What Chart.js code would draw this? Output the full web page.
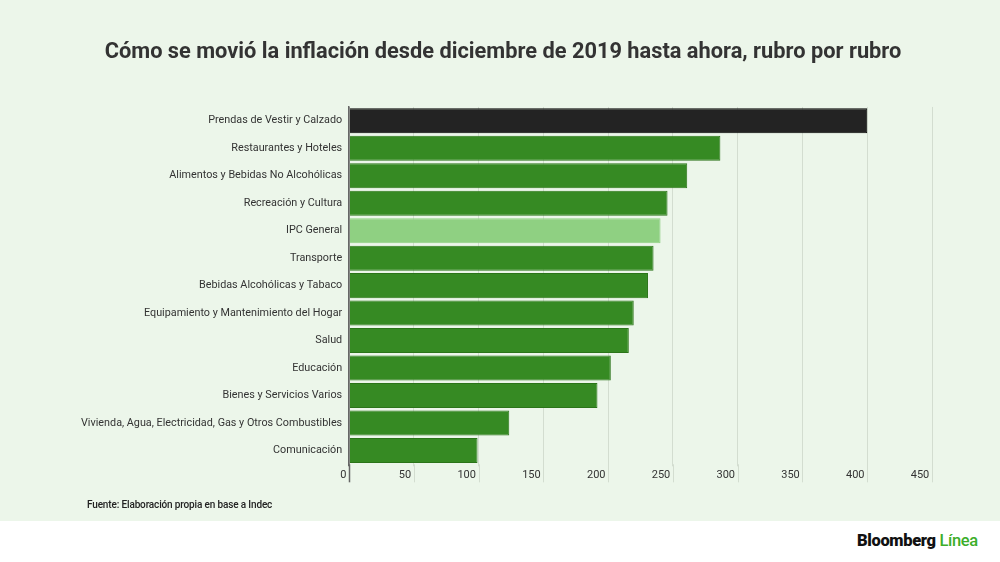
<!DOCTYPE html>
<html>
<head>
<meta charset="utf-8">
<script src="https://cdn.jsdelivr.net/npm/chart.js@4.4.0/dist/chart.umd.min.js"></script>
<style>
  html, body { margin: 0; padding: 0; background: #ffffff; }
  body { width: 1000px; height: 562px; position: relative; overflow: hidden; font-family: Roboto, sans-serif; }
  #panel { position: absolute; left: 0; top: 0; width: 1000px; height: 521px; background: #ecf6ea; }
  #fuente { position: absolute; left: 87px; top: 499px; font-size: 10px; font-weight: 500; color: #222; letter-spacing: -0.15px; }
  #logo { position: absolute; left: 857px; top: 531px; font-size: 16.5px; font-weight: 900; color: #111; letter-spacing: -0.35px; }
  #logo span { color: #3cae2a; font-weight: 500; }
</style>
</head>
<body>
<div id="panel"><canvas id="myChart" width="1000" height="521"></canvas></div>
<div id="fuente">Fuente: Elaboración propia en base a Indec</div>
<div id="logo">Bloomberg <span>Línea</span></div>
<script>
// rubros, de mayor a menor
var rubros = [
  'Prendas de Vestir y Calzado',
  'Restaurantes y Hoteles',
  'Alimentos y Bebidas No Alcohólicas',
  'Recreación y Cultura',
  'IPC General',
  'Transporte',
  'Bebidas Alcohólicas y Tabaco',
  'Equipamiento y Mantenimiento del Hogar',
  'Salud',
  'Educación',
  'Bienes y Servicios Varios',
  'Vivienda, Agua, Electricidad, Gas y Otros Combustibles',
  'Comunicación'
];
var variacion = [400, 286.6, 261, 245.8, 240.4, 235, 230.7, 219.7, 215.9, 202, 191.7, 123.6, 99.1];
var ejeMin = 0, ejeMax = 450, ejePaso = 50;

var colores = rubros.map(function(r, i) {
  if (i === 0) return '#232323';
  if (r === 'IPC General') return '#8fd082';
  return '#368a23';
});
var bordes = rubros.map(function(r, i) {
  if (i === 0) return '#050505';
  if (r === 'IPC General') return '#8fd082';
  return '#2b7419';
});

// prolonga las lineas de la grilla por debajo del eje, como en el original
var gridAbajo = {
  id: 'gridAbajo',
  beforeDatasetsDraw: function(chart) {
    var x = chart.scales.x;
    var c = chart.ctx;
    var y0 = chart.chartArea.bottom;
    c.save();
    x.ticks.forEach(function(t) {
      var px = Math.round(x.getPixelForValue(t.value)) + 0.5;
      c.beginPath();
      c.strokeStyle = t.value === 0 ? '#666666' : '#d3ddd0';
      c.lineWidth = t.value === 0 ? 1.5 : 1;
      c.moveTo(px, y0);
      c.lineTo(px, y0 + 18);
      c.stroke();
    });
    c.restore();
  }
};

window.addEventListener('load', function() {
  var ctx = document.getElementById('myChart').getContext('2d');
  Chart.defaults.font.family = 'Roboto, sans-serif';
  new Chart(ctx, {
    type: 'bar',
    data: {
      labels: rubros,
      datasets: [{
        data: variacion,
        backgroundColor: colores,
        borderColor: bordes,
        borderWidth: 1,
        barPercentage: 0.91,
        categoryPercentage: 1
      }]
    },
    options: {
      indexAxis: 'y',
      responsive: false,
      animation: false,
      layout: { padding: { left: 74, right: 68, top: 0, bottom: 36.5 } },
      plugins: {
        legend: { display: false },
        tooltip: { enabled: false },
        title: {
          display: true,
          text: 'Cómo se movió la inflación desde diciembre de 2019 hasta ahora, rubro por rubro',
          color: '#333333',
          font: { size: 21.8, weight: 'bold' },
          padding: { top: 39, bottom: 41.8 }
        }
      },
      scales: {
        x: {
          min: ejeMin,
          max: ejeMax,
          grid: {
            color: function(c) { return c.tick && c.tick.value === 0 ? '#666666' : '#d3ddd0'; },
            lineWidth: function(c) { return c.tick && c.tick.value === 0 ? 1.5 : 1; },
            drawTicks: true,
            tickLength: 2
          },
          border: { display: false },
          ticks: {
            stepSize: ejePaso,
            align: 'end',
            padding: 2.5,
            color: '#333333',
            font: { size: 11 },
            callback: function(v) { return v + ' '; }
          }
        },
        y: {
          grid: { display: false, drawTicks: false },
          border: { display: true, color: '#666666', width: 1.5 },
          ticks: {
            padding: 7,
            color: '#333333',
            font: { size: 10.8 }
          }
        }
      }
    },
    plugins: [gridAbajo]
  });
});
</script>
</body>
</html>
